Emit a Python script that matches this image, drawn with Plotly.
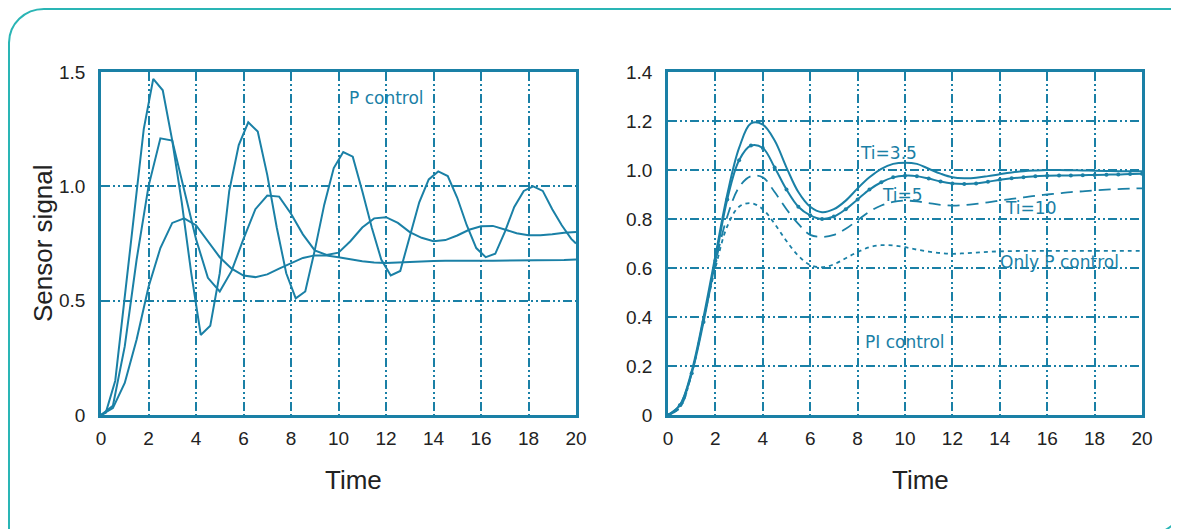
import plotly.graph_objects as go

# the page body adds an 8px margin, so the figure is drawn 8px in from the window edge
W, H = 1179, 529
OFF = 8
FW, FH = W - OFF, H - OFF
BLUE = "#1a80a6"
FRAME = "#2ab5b5"
INK = "#222222"
TICK_FONT = "Liberation Sans, Arial, sans-serif"
NOTE_FONT = "DejaVu Sans, Arial, sans-serif"

# ---- left panel: P control, three gains ----
a_x = [0, 0.2, 0.6, 1.0, 1.4, 1.8, 2.2, 2.6, 3.0, 3.4, 3.8, 4.2, 4.6, 5.0, 5.4, 5.8,
       6.2, 6.6, 7.0, 7.4, 7.8, 8.2, 8.6, 9.0, 9.4, 9.8, 10.2, 10.6, 11.0, 11.4, 11.8,
       12.2, 12.6, 13.0, 13.4, 13.8, 14.2, 14.6, 15.0, 15.4, 15.8, 16.2, 16.6, 17.0,
       17.4, 17.8, 18.2, 18.6, 19.0, 19.4, 19.8, 20.0]
a_y = [0, 0.01, 0.15, 0.52, 0.9, 1.25, 1.47, 1.42, 1.2, 0.93,
       0.62, 0.35, 0.39, 0.62, 0.98, 1.18, 1.28, 1.24, 1.05, 0.82,
       0.62, 0.51, 0.54, 0.72, 0.92, 1.08, 1.15, 1.13, 0.98, 0.82,
       0.68, 0.61, 0.63, 0.78, 0.93, 1.03, 1.065, 1.045, 0.95, 0.83,
       0.73, 0.69, 0.705, 0.8, 0.91, 0.98, 1.0, 0.98, 0.9, 0.83,
       0.77, 0.75]

t_half = [0, 0.5, 1.0, 1.5, 2.0, 2.5, 3.0, 3.5, 4.0, 4.5, 5.0, 5.5, 6.0, 6.5, 7.0,
          7.5, 8.0, 8.5, 9.0, 9.5, 10.0, 10.5, 11.0, 11.5, 12.0, 12.5, 13.0, 13.5,
          14.0, 14.5, 15.0, 15.5, 16.0, 16.5, 17.0, 17.5, 18.0, 18.5, 19.0, 19.5, 20.0]

b_y = [0, 0.04, 0.3, 0.68, 1.0, 1.21, 1.2, 0.99, 0.77, 0.6, 0.54, 0.63, 0.77,
       0.9, 0.96, 0.955, 0.88, 0.79, 0.72, 0.70, 0.71, 0.76, 0.82, 0.86, 0.865,
       0.84, 0.80, 0.775, 0.76, 0.765, 0.785, 0.81, 0.825, 0.827, 0.812, 0.795,
       0.786, 0.786, 0.79, 0.797, 0.80]

c_y = [0, 0.03, 0.14, 0.33, 0.56, 0.73, 0.84, 0.86, 0.83, 0.76, 0.69, 0.64, 0.61,
       0.603, 0.615, 0.64, 0.665, 0.687, 0.698, 0.698, 0.69, 0.68, 0.672, 0.667,
       0.665, 0.667, 0.67, 0.672, 0.674, 0.675, 0.676, 0.676, 0.675, 0.675, 0.675,
       0.675, 0.675, 0.676, 0.677, 0.678, 0.68]

# ---- right panel: PI control ----
ti35_y = [0, 0.04, 0.18, 0.4, 0.65, 0.9, 1.09, 1.19, 1.185, 1.12, 1.01, 0.91, 0.85,
          0.828, 0.84, 0.875, 0.925, 0.97, 1.005, 1.025, 1.03, 1.025, 1.005, 0.985,
          0.97, 0.966, 0.968, 0.975, 0.983, 0.99, 0.995, 0.998, 1.0, 1.0, 0.999,
          0.998, 0.997, 0.996, 0.995, 0.995, 0.995]
ti5_y = [0, 0.04, 0.17, 0.38, 0.63, 0.88, 1.04, 1.10, 1.09, 1.01, 0.92, 0.85,
         0.815, 0.80, 0.81, 0.84, 0.88, 0.92, 0.95, 0.97, 0.977, 0.975, 0.965,
         0.953, 0.945, 0.943, 0.945, 0.952, 0.96, 0.966, 0.97, 0.975, 0.977,
         0.978, 0.978, 0.979, 0.98, 0.981, 0.982, 0.984, 0.985]
ti10_y = [0, 0.03, 0.17, 0.39, 0.62, 0.81, 0.93, 0.975, 0.97, 0.91, 0.84, 0.78,
          0.735, 0.727, 0.735, 0.76, 0.795, 0.83, 0.855, 0.87, 0.875, 0.872, 0.865,
          0.858, 0.855, 0.857, 0.862, 0.868, 0.875, 0.882, 0.888, 0.895, 0.9, 0.905,
          0.91, 0.913, 0.917, 0.92, 0.922, 0.924, 0.925]
onlyp_y = [0, 0.03, 0.17, 0.39, 0.6, 0.77, 0.85, 0.865, 0.84, 0.78, 0.71, 0.65,
           0.612, 0.603, 0.615, 0.64, 0.665, 0.685, 0.693, 0.692, 0.685, 0.675,
           0.667, 0.661, 0.658, 0.66, 0.663, 0.666, 0.668, 0.669, 0.67, 0.67, 0.67,
           0.67, 0.67, 0.67, 0.67, 0.67, 0.67, 0.67, 0.67]

x_ticks = [0, 2, 4, 6, 8, 10, 12, 14, 16, 18, 20]
left_ticks = [0, 0.5, 1.0, 1.5]
left_labels = ["0", "0.5", "1.0", "1.5"]
right_ticks = [0, 0.2, 0.4, 0.6, 0.8, 1.0, 1.2, 1.4]
right_labels = ["0", "0.2", "0.4", "0.6", "0.8", "1.0", "1.2", "1.4"]


def px_x(v):
    # window pixel -> paper fraction
    return (v - OFF) / FW


def px_y(v):
    return 1 - (v - OFF) / FH


fig = go.Figure()

line = dict(color=BLUE, width=2)
fig.add_trace(go.Scatter(x=a_x, y=a_y, mode="lines", line=line, xaxis="x", yaxis="y"))
fig.add_trace(go.Scatter(x=t_half, y=b_y, mode="lines", line=line, xaxis="x", yaxis="y"))
fig.add_trace(go.Scatter(x=t_half, y=c_y, mode="lines", line=line, xaxis="x", yaxis="y"))

fig.add_trace(go.Scatter(x=t_half, y=onlyp_y, mode="lines", xaxis="x2", yaxis="y2",
                         line=dict(color=BLUE, width=1.8, dash="4px,4px", shape="spline")))
fig.add_trace(go.Scatter(x=t_half, y=ti10_y, mode="lines", xaxis="x2", yaxis="y2",
                         line=dict(color=BLUE, width=1.8, dash="12px,7px", shape="spline")))
fig.add_trace(go.Scatter(x=t_half, y=ti35_y, mode="lines", xaxis="x2", yaxis="y2",
                         line=dict(color=BLUE, width=2, shape="spline")))
fig.add_trace(go.Scatter(x=t_half, y=ti5_y, mode="lines+markers", xaxis="x2", yaxis="y2",
                         line=dict(color=BLUE, width=2, shape="spline"),
                         marker=dict(color=BLUE, size=4)))

axis_common = dict(
    showgrid=True, gridcolor=BLUE, gridwidth=2, griddash="9px,3px,2px,3px,2px,3px",
    showline=True, linecolor=BLUE, linewidth=2.5, mirror=True, zeroline=False,
    ticks="outside", tickcolor="rgba(0,0,0,0)", automargin=False,
    tickfont=dict(family=TICK_FONT, size=19, color=INK), fixedrange=True,
)

fig.update_layout(
    width=FW, height=FH, margin=dict(l=0, r=0, t=0, b=0, autoexpand=False),
    paper_bgcolor="white", plot_bgcolor="white", showlegend=False,
    xaxis=dict(domain=[px_x(101), px_x(576)], range=[0, 20], tickvals=x_ticks,
               anchor="y", ticklen=4, **axis_common),
    yaxis=dict(domain=[px_y(415), px_y(72)], range=[0, 1.5], tickvals=left_ticks,
               ticktext=left_labels, anchor="x", ticklen=9, **axis_common),
    xaxis2=dict(domain=[px_x(668), px_x(1142)], range=[0, 20], tickvals=x_ticks,
                anchor="y2", ticklen=4, **axis_common),
    yaxis2=dict(domain=[px_y(415), px_y(72)], range=[0, 1.4], tickvals=right_ticks,
                ticktext=right_labels, anchor="x2", ticklen=9, **axis_common),
)

notes = [
    ("P control", 12.0, 1.386, "x", "y"),
    ("Ti=3.5", 9.3, 1.07, "x2", "y2"),
    ("Ti=5", 9.9, 0.9, "x2", "y2"),
    ("Ti=10", 15.3, 0.845, "x2", "y2"),
    ("Only P control", 16.5, 0.624, "x2", "y2"),
    ("PI control", 10.0, 0.298, "x2", "y2"),
]
for text, x, y, xr, yr in notes:
    fig.add_annotation(text=text, x=x, y=y, xref=xr, yref=yr, showarrow=False,
                       xanchor="center", yanchor="middle",
                       font=dict(family=NOTE_FONT, size=17, color=BLUE))

title_font = dict(family=TICK_FONT, size=26, color=INK)
for label, cx, cy, angle in [("Time", 353, 480, 0), ("Time", 920, 480, 0),
                             ("Sensor signal", 43, 243, -90)]:
    fig.add_annotation(text=label, x=px_x(cx), y=px_y(cy), xref="paper", yref="paper",
                       showarrow=False, textangle=angle, xanchor="center",
                       yanchor="middle", font=title_font)


# rounded outer frame (top-left and bottom-right corners)
def pt(x, y):
    return f"{px_x(x):.5f},{px_y(y):.5f}"


k = 19.3
frame_path = (
    f"M{pt(9, 560)} L{pt(9, 43)} C{pt(9, 43 - k)} {pt(44 - k, 9)} {pt(44, 9)} "
    f"L{pt(1200, 9)} "
    f"M{pt(1184, 420)} L{pt(1184, 499)} C{pt(1184, 499 + k)} {pt(1149 + k, 534)} "
    f"{pt(1149, 534)} L{pt(1000, 534)}"
)
fig.add_shape(type="path", path=frame_path, xref="paper", yref="paper",
              line=dict(color=FRAME, width=2))

fig.write_html("out.html")
